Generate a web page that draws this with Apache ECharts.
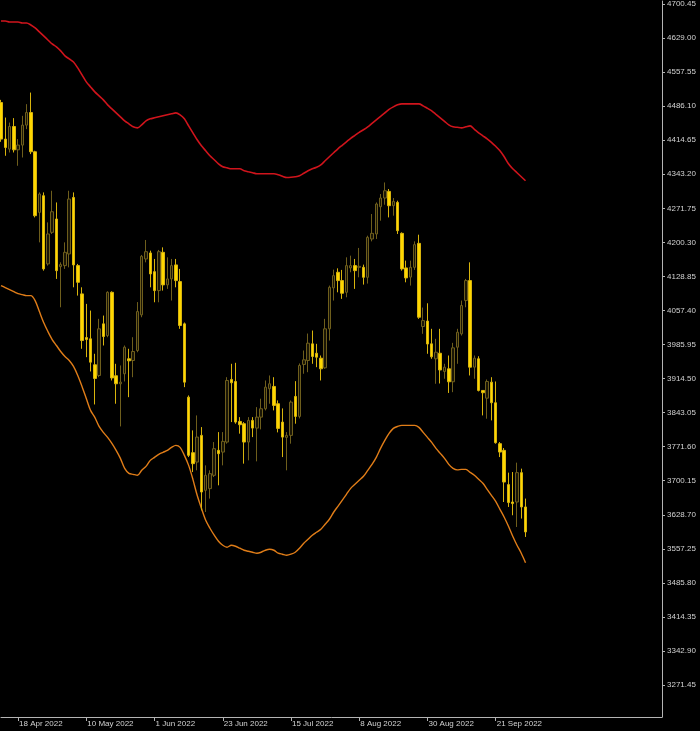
<!DOCTYPE html>
<html>
<head>
<meta charset="utf-8">
<script src="https://cdn.jsdelivr.net/npm/echarts@6/dist/echarts.min.js"></script>
<style>html,body{margin:0;padding:0;background:#000;}#c{width:700px;height:731px;}</style>
</head>
<body>
<div id="c"></div>
<script>
const dates = [
'2022-04-11','2022-04-12','2022-04-13','2022-04-14','2022-04-18','2022-04-19','2022-04-20','2022-04-21','2022-04-22','2022-04-25','2022-04-26','2022-04-27','2022-04-28','2022-04-29',
'2022-05-02','2022-05-03','2022-05-04','2022-05-05','2022-05-06','2022-05-09','2022-05-10','2022-05-11','2022-05-12','2022-05-13','2022-05-16','2022-05-17','2022-05-18','2022-05-19','2022-05-20','2022-05-23','2022-05-24','2022-05-25','2022-05-26','2022-05-27','2022-05-30','2022-05-31',
'2022-06-01','2022-06-02','2022-06-03','2022-06-06','2022-06-07','2022-06-08','2022-06-09','2022-06-10','2022-06-13','2022-06-14','2022-06-15','2022-06-16','2022-06-17','2022-06-20','2022-06-21','2022-06-22','2022-06-23','2022-06-24','2022-06-27','2022-06-28','2022-06-29','2022-06-30',
'2022-07-01','2022-07-04','2022-07-05','2022-07-06','2022-07-07','2022-07-08','2022-07-11','2022-07-12','2022-07-13','2022-07-14','2022-07-15','2022-07-18','2022-07-19','2022-07-20','2022-07-21','2022-07-22','2022-07-25','2022-07-26','2022-07-27','2022-07-28','2022-07-29',
'2022-08-01','2022-08-02','2022-08-03','2022-08-04','2022-08-05','2022-08-08','2022-08-09','2022-08-10','2022-08-11','2022-08-12','2022-08-15','2022-08-16','2022-08-17','2022-08-18','2022-08-19','2022-08-22','2022-08-23','2022-08-24','2022-08-25','2022-08-26','2022-08-29','2022-08-30','2022-08-31',
'2022-09-01','2022-09-02','2022-09-05','2022-09-06','2022-09-07','2022-09-08','2022-09-09','2022-09-12','2022-09-13','2022-09-14','2022-09-15','2022-09-16','2022-09-19','2022-09-20','2022-09-21','2022-09-22','2022-09-23','2022-09-26','2022-09-27','2022-09-28','2022-09-29','2022-09-30'
];
const opens = [4493.7,4417.0,4396.0,4443.4,4394.5,4404.4,4446.3,4472.7,4390.4,4263.2,4298.2,4155.1,4221.3,4249.3,4149.4,4151.5,4176.0,4294.6,4151.5,4092.2,4000.6,3997.9,3943.4,3921.0,4029.3,4004.8,4095.5,3920.4,3903.6,3924.6,3956.0,3952.4,3973.4,4048.2,4165.5,4178.1,4138.9,4099.1,4179.4,4111.1,4123.6,4153.0,4118.0,4029.3,3875.5,3759.0,3739.3,3795.3,3680.0,3683.6,3711.5,3763.9,3760.3,3781.3,3912.6,3908.4,3824.6,3819.8,3781.3,3826.7,3810.6,3833.6,3851.2,3893.1,3898.0,3861.7,3823.2,3791.1,3795.3,3877.0,3835.1,3944.1,3952.4,3987.4,3967.7,3957.3,3937.1,4018.9,4104.8,4137.5,4120.1,4095.5,4146.7,4151.5,4147.9,4147.9,4127.0,4207.4,4217.9,4275.1,4293.3,4307.2,4277.2,4284.1,4219.2,4146.7,4127.4,4147.9,4198.2,4023.7,4035.2,3987.4,3956.0,3967.7,3929.4,3935.0,3907.8,3980.3,4008.4,4078.2,4120.1,3938.4,3956.0,3889.6,3873.4,3907.0,3863.8,3777.9,3763.9,3692.0,3655.5,3655.5,3717.1,3645.1];
const highs = [4499.3,4462.2,4451.7,4461.0,4417.0,4465.8,4490.3,4514.6,4392.5,4305.1,4305.1,4242.2,4308.6,4284.1,4158.4,4200.3,4308.6,4305.1,4155.1,4106.0,4071.2,4057.2,3966.5,4039.8,4046.7,4097.6,4097.6,3945.5,3942.0,3983.9,3977.0,4001.3,4075.0,4173.9,4205.3,4182.9,4165.5,4184.4,4189.8,4168.9,4165.5,4165.5,4144.6,4032.1,3879.1,3805.8,3837.2,3812.7,3732.4,3722.0,3781.3,3802.2,3802.2,3917.4,3945.5,3947.6,3833.6,3823.2,3833.6,3833.6,3854.6,3872.2,3910.5,3921.0,3917.4,3868.6,3851.9,3802.2,3868.6,3909.1,3946.2,3973.4,4009.0,4015.3,3987.4,3962.9,4039.8,4109.6,4143.1,4145.8,4142.5,4168.9,4172.4,4165.5,4188.6,4153.6,4214.3,4259.8,4284.1,4301.7,4326.0,4312.2,4293.3,4287.7,4221.3,4162.0,4162.0,4202.4,4216.4,4063.5,4072.5,4018.9,3997.9,4018.9,3945.5,3962.9,3989.5,4018.9,4078.2,4123.6,4158.4,3962.9,3961.4,3889.6,3912.6,3917.4,3908.4,3781.3,3768.7,3717.1,3718.4,3738.1,3725.5,3662.7];
const lows = [4411.3,4382.0,4388.9,4388.9,4361.0,4378.4,4437.9,4385.5,4252.7,4200.3,4141.0,4151.5,4217.9,4123.6,4064.1,4144.6,4147.9,4106.0,4088.6,3977.0,3959.4,3929.4,3860.2,3917.4,3983.9,4001.3,3910.5,3861.7,3814.1,3908.4,3875.5,3917.4,3969.8,4043.2,4158.4,4106.0,4074.6,4074.6,4099.1,4102.7,4078.2,4106.0,4018.9,3896.5,3749.8,3718.4,3722.0,3638.1,3634.6,3662.7,3707.9,3690.5,3732.4,3777.9,3823.2,3819.8,3798.9,3736.0,3742.9,3791.7,3740.8,3807.9,3847.7,3861.7,3847.7,3801.6,3749.8,3722.0,3777.9,3819.8,3830.9,3924.6,3927.9,3945.5,3938.4,3910.5,3935.0,3994.3,4078.2,4095.5,4081.7,4085.1,4137.5,4102.7,4127.0,4111.7,4113.8,4202.4,4207.4,4245.8,4279.3,4252.7,4256.3,4217.9,4141.0,4116.5,4109.6,4142.5,4039.8,4008.4,3966.5,3956.0,3903.6,3904.2,3914.1,3884.3,3886.0,3945.5,4004.8,4064.1,3921.0,3914.1,3887.5,3837.2,3830.3,3826.7,3777.9,3749.8,3655.5,3645.1,3627.7,3603.1,3620.8,3582.2];
const closes = [4417.0,4399.4,4443.4,4394.5,4404.4,4446.3,4472.7,4390.4,4256.3,4301.7,4144.6,4217.9,4264.6,4141.0,4153.6,4179.4,4291.2,4153.0,4116.5,3994.3,3996.4,3948.9,3914.7,4018.9,4002.7,4095.5,3915.8,3903.6,3907.0,3980.3,3951.8,3971.3,4055.1,4171.0,4180.8,4134.1,4099.1,4180.8,4111.1,4123.6,4151.5,4120.1,4025.8,3907.0,3753.4,3736.0,3791.7,3676.5,3711.5,3715.0,3767.4,3756.9,3782.7,3910.5,3905.7,3823.2,3817.7,3781.3,3826.7,3810.6,3833.6,3851.2,3896.5,3903.6,3858.1,3810.0,3791.7,3795.3,3865.1,3835.1,3942.0,3953.9,3988.7,3960.8,3959.4,3935.0,4018.9,4106.0,4130.5,4120.1,4093.5,4151.5,4151.5,4141.0,4150.0,4127.0,4210.8,4219.2,4280.8,4293.3,4308.6,4277.2,4286.2,4224.8,4144.6,4125.7,4147.9,4195.5,4043.2,4036.2,3987.0,3960.2,3969.8,3932.5,3938.4,3907.8,3979.0,4011.7,4067.7,4120.1,3938.4,3957.3,3889.6,3884.8,3908.4,3863.8,3780.0,3760.3,3697.4,3654.3,3652.2,3717.1,3645.1,3592.7];
const upperBand = [4664.8,4664.8,4662.7,4662.7,4662.7,4660.6,4660.6,4656.5,4650.2,4641.8,4633.4,4625.0,4616.6,4610.4,4602.0,4591.5,4585.2,4578.9,4566.3,4551.7,4537.0,4526.5,4516.1,4507.7,4499.3,4488.8,4480.5,4472.1,4463.7,4455.3,4449.0,4442.7,4440.6,4446.9,4455.3,4459.5,4461.6,4463.7,4465.8,4467.9,4470.0,4472.1,4467.9,4459.5,4444.8,4430.2,4415.5,4402.9,4392.5,4382.0,4373.6,4365.2,4358.9,4356.8,4354.7,4354.7,4354.7,4350.5,4348.4,4346.4,4344.3,4344.3,4344.3,4344.3,4344.3,4342.2,4339.0,4336.5,4336.9,4338.0,4340.1,4345.3,4350.5,4354.7,4357.9,4363.1,4371.5,4379.9,4388.3,4396.6,4404.0,4411.3,4418.6,4424.9,4431.2,4436.5,4442.7,4450.1,4457.4,4464.7,4472.1,4479.4,4484.6,4488.8,4490.9,4490.9,4490.9,4490.9,4490.9,4486.7,4481.5,4476.3,4468.9,4461.6,4454.3,4446.9,4442.7,4441.7,4440.6,4442.7,4444.8,4437.5,4430.2,4423.9,4417.6,4410.3,4401.9,4392.5,4379.9,4365.2,4354.7,4346.4,4338.0,4329.6];
const lowerBand = [4109.6,4105.4,4101.2,4097.0,4092.8,4090.7,4088.6,4088.6,4078.2,4055.1,4032.1,4013.2,3996.4,3983.9,3971.3,3960.8,3952.4,3939.9,3921.0,3898.0,3872.8,3847.7,3833.0,3814.1,3801.6,3791.1,3778.5,3763.9,3747.1,3726.1,3715.7,3713.6,3711.5,3722.0,3730.3,3742.9,3749.2,3755.5,3759.7,3763.9,3770.1,3774.3,3770.1,3753.4,3732.4,3703.1,3669.6,3642.3,3617.2,3600.4,3585.8,3573.2,3564.8,3560.6,3564.8,3562.7,3558.5,3554.3,3552.2,3550.1,3548.1,3550.1,3554.3,3556.4,3554.3,3548.1,3546.0,3543.9,3546.0,3550.1,3558.5,3569.0,3577.4,3585.8,3592.1,3598.3,3608.8,3619.3,3634.0,3646.5,3659.1,3671.7,3684.2,3692.6,3701.0,3709.4,3722.0,3734.5,3749.2,3768.0,3784.8,3799.5,3810.0,3814.1,3816.2,3816.2,3816.2,3816.2,3812.1,3801.6,3791.1,3780.6,3768.0,3757.6,3747.1,3734.5,3726.1,3723.0,3724.0,3724.0,3717.8,3711.5,3703.1,3694.7,3682.1,3669.6,3657.0,3640.2,3623.5,3604.6,3583.7,3564.8,3548.1,3528.2];
const yTicks = [4700.45,4629.00,4557.55,4486.10,4414.65,4343.20,4271.75,4200.30,4128.85,4057.40,3985.95,3914.50,3843.05,3771.60,3700.15,3628.70,3557.25,3485.80,3414.35,3342.90,3271.45];
const xTickDates = ['2022-04-18','2022-05-10','2022-06-01','2022-06-23','2022-07-15','2022-08-08','2022-08-30','2022-09-21'];
const monthNames = ['Jan','Feb','Mar','Apr','May','Jun','Jul','Aug','Sep','Oct','Nov','Dec'];

const padCount = 32;
const xCats = dates.concat(Array.from({length: padCount}, (_, i) => 'pad' + i));
const tickIdx = new Set(xTickDates.map(d => dates.indexOf(d)));
const showTick = (idx) => tickIdx.has(idx);
const fmtDate = (s) => {
  const p = s.split('-');
  return parseInt(p[2], 10) + ' ' + monthNames[parseInt(p[1], 10) - 1] + ' ' + p[0];
};

const candleData = dates.map((d, i) => [opens[i], closes[i], lows[i], highs[i]]);

const chart = echarts.init(document.getElementById('c'), null, {renderer: 'canvas'});
const axisCol = '#b4b4b4';
const labelCol = '#d2d2d2';
chart.setOption({
  backgroundColor: '#000000',
  animation: false,
  grid: {left: 1, right: 38, top: 0, bottom: 14},
  xAxis: {
    type: 'category',
    data: xCats,
    boundaryGap: false,
    axisLine: {show: true, lineStyle: {color: axisCol, width: 1}},
    axisTick: {show: true, interval: showTick, length: 4, lineStyle: {color: axisCol}},
    axisLabel: {
      show: true, interval: showTick, formatter: fmtDate, align: 'left',
      margin: 3, fontSize: 8, fontFamily: 'Liberation Sans', color: labelCol, padding: [0, 0, 0, 1]
    },
    splitLine: {show: false}
  },
  yAxis: {
    type: 'value',
    position: 'right',
    min: 3204.4,
    max: 4706.74,
    scale: true,
    axisLine: {show: true, lineStyle: {color: axisCol, width: 1}},
    axisTick: {show: true, customValues: yTicks, length: 3, lineStyle: {color: axisCol}},
    axisLabel: {
      show: true, customValues: yTicks, formatter: v => Number(v).toFixed(2),
      margin: 5, fontSize: 8, fontFamily: 'Liberation Sans', color: labelCol
    },
    splitLine: {show: false}
  },
  series: [
    {
      name: 'Upper', type: 'line', data: upperBand, showSymbol: false, smooth: 0.3,
      lineStyle: {color: '#d0141c', width: 1.6}, z: 2
    },
    {
      name: 'Lower', type: 'line', data: lowerBand, showSymbol: false, smooth: 0.3,
      lineStyle: {color: '#e07d18', width: 1.4}, z: 2
    },
    {
      name: 'Price', type: 'candlestick', data: candleData, barWidth: 3,
      itemStyle: {
        color: '#1a1606', color0: '#ffd700',
        borderColor: '#6e5e1c', borderColor0: '#d8b40c', borderWidth: 1
      },
      z: 3
    }
  ]
});
</script>
</body>
</html>
